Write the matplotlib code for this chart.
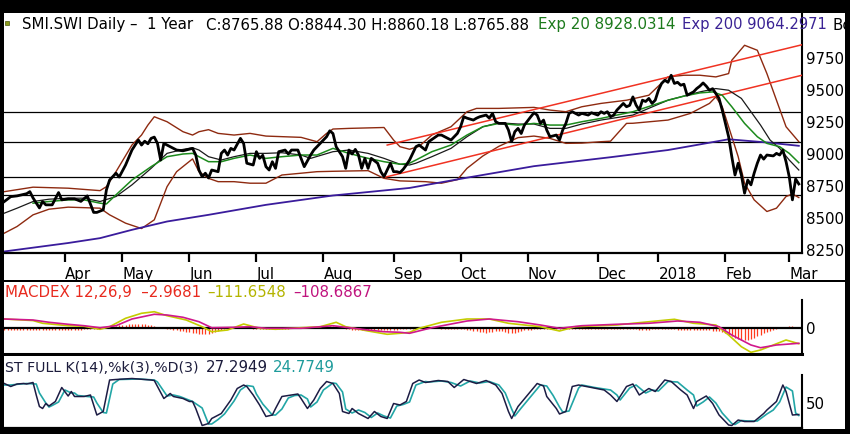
import numpy as np
import matplotlib
matplotlib.use("Agg")
import matplotlib.pyplot as plt
from matplotlib.patches import Rectangle
from matplotlib.transforms import blended_transform_factory

# x axis = trading days counted from 1 Apr 2017
month_labels = ["Apr", "May", "Jun", "Jul", "Aug", "Sep", "Oct", "Nov", "Dec", "2018", "Feb", "Mar"]
month_days = [18, 21, 21, 21, 22, 21, 21, 22, 19, 21, 20]

## Harga penutupan (day, close) ##
close = [(-19, 8629), (-17, 8667), (-15, 8673), (-12, 8690), (-11, 8706), (-10, 8657), (-8, 8579),
         (-7, 8629), (-6, 8603), (-4, 8603), (-2, 8699), (-1, 8642), (1, 8650), (3, 8650), (5, 8630),
         (7, 8673), (9, 8544), (10, 8544), (12, 8564), (13, 8720), (14, 8797), (16, 8850), (17, 8820),
         (19, 8914), (21, 9031), (23, 9109), (24, 9070), (25, 9100), (26, 9080), (27, 9122), (28, 9132),
         (29, 9083), (30, 8953), (31, 9083), (33, 9057), (35, 9031), (37, 9025), (40, 9044), (41, 8992),
         (42, 8875), (43, 8823), (44, 8850), (45, 8813), (46, 8875), (48, 8862), (49, 9005), (50, 9031),
         (51, 8992), (52, 9044), (53, 9031), (55, 9122), (56, 9083), (57, 8928), (59, 8914), (60, 9018),
         (61, 8966), (62, 8990), (63, 8901), (64, 8875), (65, 8940), (66, 8888), (67, 9018), (69, 9031),
         (70, 9000), (71, 9031), (73, 9031), (74, 8966), (75, 8901), (77, 8992), (78, 9031), (80, 9083),
         (82, 9135), (83, 9181), (84, 9160), (85, 9057), (87, 8979), (88, 8888), (89, 9031), (90, 9000),
         (91, 9036), (92, 8992), (93, 8888), (94, 8966), (95, 8888), (96, 8966), (98, 8928), (99, 8862),
         (100, 8823), (102, 8928), (103, 8862), (104, 8862), (105, 8855), (106, 8880), (107, 8914),
         (108, 8953), (110, 9057), (111, 9070), (113, 9031), (114, 9096), (117, 9148), (118, 9148),
         (120, 9122), (121, 9109), (123, 9161), (124, 9213), (125, 9291), (126, 9280), (128, 9265),
         (129, 9280), (130, 9291), (132, 9304), (133, 9280), (134, 9317), (135, 9252), (136, 9239),
         (138, 9239), (139, 9187), (140, 9096), (141, 9174), (142, 9200), (143, 9160), (144, 9226),
         (146, 9291), (147, 9322), (148, 9304), (149, 9239), (150, 9265), (151, 9187), (152, 9135),
         (154, 9148), (155, 9109), (156, 9187), (157, 9239), (158, 9317), (159, 9330), (161, 9304),
         (162, 9317), (164, 9304), (165, 9322), (167, 9304), (168, 9330), (169, 9317), (170, 9330),
         (171, 9291), (172, 9304), (173, 9343), (175, 9395), (176, 9369), (177, 9380), (178, 9446),
         (179, 9382), (180, 9343), (181, 9420), (182, 9410), (183, 9434), (184, 9395), (185, 9420),
         (186, 9498), (187, 9551), (188, 9576), (189, 9560), (190, 9615), (191, 9551), (192, 9560),
         (193, 9537), (194, 9545), (195, 9459), (197, 9485), (198, 9511), (199, 9530), (200, 9555),
         (201, 9530), (202, 9498), (203, 9510), (204, 9472), (205, 9434), (206, 9343), (207, 9239),
         (208, 9135), (209, 8979), (210, 8836), (211, 8928), (212, 8836), (213, 8694), (214, 8797),
         (215, 8759), (216, 8850), (217, 8928), (218, 8992), (219, 8960), (220, 8992), (222, 8985),
         (223, 9005), (224, 8992), (225, 9031), (226, 8940), (227, 8823), (228, 8642), (229, 8805),
         (230, 8766)]

ema20 = [(-10, 8616), (-5, 8629), (1, 8642), (6, 8642), (11, 8616), (13, 8610), (16, 8681), (21, 8797),
         (27, 8901), (32, 8979), (37, 9000), (40, 9005), (42, 8979), (45, 8940), (49, 8940), (53, 8966),
         (58, 8992), (63, 8966), (68, 8979), (74, 8992), (79, 8992), (84, 9044), (89, 9005), (95, 8966),
         (100, 8940), (105, 8920), (108, 8928), (110, 8953), (115, 9018), (121, 9070), (126, 9148),
         (131, 9213), (136, 9239), (142, 9226), (147, 9239), (152, 9226), (157, 9226), (162, 9252),
         (168, 9278), (178, 9330), (189, 9420), (194, 9452), (199, 9477), (203, 9485), (206, 9459),
         (209, 9369), (213, 9239), (217, 9135), (220, 9083), (224, 9057), (227, 9005), (230, 8932)]

ema200 = [(-19, 8239), (1, 8305), (11, 8343), (21, 8408), (32, 8473), (45, 8525), (63, 8603),
          (84, 8676), (108, 8735), (126, 8815), (147, 8905), (171, 8975), (189, 9031), (199, 9075),
          (208, 9115), (220, 9090), (230, 9064)]

bb_mid = [(-19, 8538), (-15, 8577), (-10, 8629), (-5, 8647), (1, 8655), (6, 8655), (11, 8629),
          (16, 8668), (21, 8759), (27, 8888), (32, 9005), (37, 9036), (40, 9049), (42, 9031), (45, 8979),
          (49, 8953), (53, 8979), (58, 9005), (63, 9005), (68, 9010), (74, 8992), (77, 8966), (84, 9018),
          (89, 9031), (95, 9005), (100, 8966), (105, 8920), (108, 8914), (110, 8928), (115, 8979),
          (121, 9044), (126, 9135), (131, 9213), (136, 9244), (142, 9234), (147, 9234), (152, 9200),
          (157, 9200), (162, 9234), (168, 9265), (178, 9304), (189, 9420), (199, 9485), (204, 9511),
          (208, 9498), (212, 9434), (215, 9330), (218, 9226), (221, 9109), (224, 9044), (227, 8953),
          (230, 8875)]

bb_upper = [(-19, 8706), (-10, 8741), (1, 8733), (11, 8714), (13, 8745), (16, 8862), (21, 9070),
            (24, 9148), (26, 9226), (28, 9291), (32, 9252), (37, 9174), (40, 9148), (42, 9174),
            (45, 9190), (48, 9161), (53, 9148), (58, 9161), (63, 9140), (74, 9130), (79, 9096),
            (82, 9161), (84, 9195), (89, 9200), (100, 9207), (103, 9109), (105, 9057), (108, 9037),
            (111, 9060), (115, 9148), (121, 9213), (126, 9330), (129, 9356), (136, 9356), (147, 9364),
            (152, 9343), (157, 9330), (162, 9369), (168, 9395), (176, 9420), (183, 9459), (189, 9602),
            (194, 9615), (199, 9615), (204, 9602), (208, 9628), (209, 9732), (213, 9849), (217, 9810),
            (220, 9628), (223, 9420), (226, 9213), (230, 9096)]

bb_lower = [(-19, 8382), (-15, 8434), (-10, 8525), (-5, 8569), (1, 8585), (11, 8577), (14, 8525),
            (19, 8460), (24, 8418), (28, 8486), (32, 8745), (35, 8862), (40, 8962), (42, 8862),
            (45, 8810), (48, 8784), (53, 8784), (58, 8772), (63, 8772), (68, 8836), (74, 8850),
            (79, 8862), (84, 8865), (95, 8870), (100, 8810), (105, 8790), (113, 8784), (118, 8772),
            (123, 8800), (126, 8888), (131, 8985), (136, 9060), (142, 9128), (147, 9140), (152, 9122),
            (157, 9083), (162, 9085), (168, 9096), (171, 9100), (176, 9239), (178, 9240), (189, 9265),
            (196, 9317), (202, 9395), (204, 9446), (206, 9369), (208, 9213), (211, 8979), (213, 8772),
            (216, 8642), (220, 8551), (223, 8577), (226, 8668), (228, 8688), (230, 8660)]

channel_upper = [(101, 9070), (231, 9853)]
channel_lower = [(100, 8817), (231, 9615)]
hlines = [9325, 9092, 8820, 8680]

## MACD 12,26,9 ##
macd = [(-19, 61), (-10, 50), (-7, 31), (1, 14), (6, 10), (11, -11), (14, 7), (19, 66), (24, 101),
        (28, 112), (32, 84), (38, 54), (43, 7), (46, -28), (51, -16), (56, 26), (61, -4), (66, -11),
        (74, 0), (80, 7), (85, 38), (88, 7), (95, -23), (101, -46), (105, -39), (108, -32), (111, -4),
        (118, 38), (126, 61), (133, 61), (139, 31), (149, 7), (155, -23), (160, 7), (173, 19),
        (178, 31), (191, 59), (197, 31), (204, 19), (208, -51), (212, -133), (215, -172), (218, -156),
        (222, -121), (226, -86), (230, -112)]
signal = [(-19, 61), (-10, 54), (-5, 38), (1, 24), (6, 14), (11, 0), (16, 14), (21, 61), (28, 94),
          (32, 89), (37, 73), (42, 42), (46, 0), (53, 3), (58, 7), (63, -4), (74, -4), (84, 14),
          (89, 0), (95, -16), (100, -28), (105, -32), (108, -39), (115, 0), (126, 47), (133, 61),
          (142, 42), (149, 19), (155, -4), (162, 14), (173, 24), (183, 31), (192, 47), (199, 38),
          (205, 7), (209, -51), (215, -121), (218, -140), (223, -121), (230, -109)]
# histogram, one bar per trading day from day -19 to day 230
hist = [-14, -14, -15, -15, -14, -14, -15, -16, -15, -15,
        -15, -15, -16, -16, -15, -15, -14, -14, -15, -15,
        -14, -13, -13, -14, -13, -12, -11, -10, -9, -8,
        -5, -2, 3, 7, 11, 14, 17, 19, 21, 23,
        24, 26, 27, 26, 24, 21, 17, 12, 7, 2,
        -4, -8, -11, -14, -17, -20, -24, -28, -32, -36,
        -40, -44, -46, -47, -45, -40, -33, -26, -18, -10,
        -4, 2, 6, 8, 7, 4, 0, -4, -7, -9,
        -9, -8, -7, -6, -6, -7, -7, -8, -7, -6,
        -4, -2, 0, 2, 3, 2, 0, 3, 6, 9,
        11, 12, 12, 11, 7, 2, -4, -8, -11, -14,
        -15, -16, -17, -18, -18, -17, -17, -16, -16, -15,
        -15, -14, -13, -13, -12, -11, -10, -9, -8, -6,
        -5, -4, -3, -3, -4, -5, -5, -6, -6, -7,
        -8, -9, -9, -10, -11, -13, -16, -20, -25, -29,
        -32, -34, -32, -28, -24, -20, -24, -30, -34, -36,
        -34, -29, -23, -18, -15, -13, -12, -11, -11, -10,
        -10, -9, -9, -8, -8, -8, -7, -7, -7, -8,
        -8, -8, -9, -9, -9, -8, -8, -9, -9, -10,
        -10, -10, -11, -11, -11, -12, -12, -12, -12, -13,
        -13, -13, -13, -12, -12, -12, -11, -11, -11, -12,
        -12, -13, -13, -14, -14, -15, -15, -15, -16, -16,
        -17, -18, -20, -22, -26, -32, -40, -50, -60, -70,
        -78, -84, -86, -84, -78, -70, -60, -50, -40, -32,
        -24, -16, -9, -2, 4, 8, 10, 9, 7, 4]

## Stochastic full 14,3,3 ##
stoch_k = [(-19, 89), (-17, 83), (-15, 88), (-13, 89), (-12, 88), (-10, 91), (-9, 66), (-8, 43), (-7, 39),
           (-6, 49), (-5, 44), (-3, 53), (-1, 81), (1, 64), (2, 73), (3, 63), (6, 63), (8, 66), (9, 46),
           (10, 26), (12, 33), (14, 96), (16, 97), (21, 99), (27, 96), (28, 95), (31, 59), (33, 69),
           (34, 63), (37, 59), (39, 53), (40, 53), (41, 39), (43, 5), (45, 9), (46, 19), (49, 29),
           (52, 56), (54, 79), (56, 86), (57, 83), (59, 66), (61, 46), (63, 23), (65, 26), (66, 39),
           (68, 63), (71, 66), (73, 68), (74, 59), (76, 39), (78, 56), (80, 79), (82, 93), (84, 89),
           (86, 69), (87, 33), (89, 29), (90, 39), (92, 29), (95, 19), (97, 33), (99, 23), (101, 19),
           (103, 49), (105, 46), (107, 53), (109, 89), (111, 96), (113, 91), (117, 95), (120, 93),
           (122, 81), (125, 97), (129, 89), (132, 95), (135, 86), (137, 69), (139, 33), (140, 19),
           (142, 43), (145, 66), (148, 89), (150, 84), (151, 63), (154, 39), (155, 28), (157, 33),
           (159, 83), (161, 86), (165, 81), (169, 76), (171, 66), (173, 53), (176, 83), (178, 88),
           (180, 66), (183, 79), (185, 73), (188, 96), (190, 93), (193, 76), (195, 66), (197, 39),
           (198, 53), (201, 64), (203, 49), (205, 26), (208, 6), (209, 5), (211, 16), (213, 13),
           (216, 13), (219, 29), (220, 36), (223, 53), (225, 86), (226, 73), (228, 26), (230, 27)]
stoch_d = [(-19, 86), (-17, 86), (-14, 88), (-12, 89), (-9, 88), (-8, 70), (-6, 50), (-5, 42), (-4, 45),
           (-2, 52), (0, 76), (2, 70), (3, 70), (4, 65), (7, 63), (9, 62), (10, 50), (12, 31), (13, 30),
           (15, 88), (17, 97), (23, 98), (28, 96), (29, 92), (32, 64), (34, 66), (36, 63), (38, 58),
           (40, 53), (43, 40), (45, 8), (46, 8), (48, 17), (50, 28), (53, 54), (55, 76), (57, 85),
           (59, 83), (60, 68), (62, 48), (65, 26), (66, 26), (68, 38), (70, 60), (72, 65), (74, 66),
           (76, 58), (77, 42), (79, 52), (81, 76), (84, 90), (85, 89), (87, 72), (88, 38), (90, 30),
           (92, 36), (94, 31), (96, 21), (98, 30), (100, 24), (102, 20), (104, 44), (106, 47), (108, 52),
           (110, 86), (113, 93), (114, 92), (118, 94), (121, 91), (124, 84), (127, 94), (130, 90),
           (133, 93), (136, 86), (138, 70), (140, 38), (141, 24), (143, 40), (146, 63), (149, 86),
           (151, 84), (153, 65), (155, 42), (156, 32), (158, 34), (161, 80), (162, 86), (166, 81),
           (171, 76), (173, 66), (174, 56), (177, 80), (179, 86), (182, 70), (184, 76), (186, 74),
           (189, 93), (192, 92), (195, 76), (197, 66), (198, 44), (200, 52), (202, 62), (204, 50),
           (206, 30), (209, 9), (210, 7), (212, 15), (214, 14), (217, 14), (220, 28), (222, 36),
           (224, 52), (226, 82), (228, 74), (229, 30), (230, 25)]

W, H = 850, 434
FS = 10.8


def fx(px):
    return px / W


def fy(py):
    return 1 - py / H


def xy(pts):
    a = np.array(pts, dtype=float)
    return a[:, 0], a[:, 1]


fig = plt.figure(figsize=(W / 100, H / 100), dpi=100)
fig.patch.set_facecolor("black")
fig.add_artist(Rectangle((fx(4), fy(429)), fx(845) - fx(4), fy(13) - fy(429),
                         transform=fig.transFigure, facecolor="white", edgecolor="none", zorder=-5))
fig.add_artist(Rectangle((fx(4), fy(282)), fx(845) - fx(4), 2 / H,
                         transform=fig.transFigure, facecolor="black", edgecolor="none", zorder=5))

xlim = (-19.1, 231.0)
ax = fig.add_axes([fx(4), fy(253), fx(802) - fx(4), fy(13) - fy(253)])
ax_m = fig.add_axes([fx(4), fy(354), fx(802) - fx(4), fy(282) - fy(354)])
ax_s = fig.add_axes([fx(4), fy(428), fx(802) - fx(4), fy(356) - fy(428)])

### PANEL HARGA ###
for v in hlines:
    ax.axhline(v, color="black", lw=0.9, zorder=1)
ax.plot(*xy(bb_upper), color="#8e2a10", lw=1.0, zorder=2)
ax.plot(*xy(bb_lower), color="#8e2a10", lw=1.0, zorder=2)
ax.plot(*xy(ema200), color="#3a1c9c", lw=1.3, zorder=2)
ax.plot(*xy(channel_upper), color="#f03222", lw=1.1, zorder=3)
ax.plot(*xy(channel_lower), color="#f03222", lw=1.1, zorder=3)
ax.plot(*xy(bb_mid), color="#1a1a1a", lw=0.9, zorder=3)
ax.plot(*xy(ema20), color="#1c8a1c", lw=1.1, zorder=4)
ax.plot(*xy(close), color="black", lw=2.0, zorder=5)

ax.set_xlim(*xlim)
ax.set_ylim(8227, 10101)
ax.yaxis.tick_right()
ax.set_yticks(range(8250, 9751, 250))
ax.tick_params(axis="y", length=0, pad=3, labelsize=FS)
ticks = np.concatenate([[0], np.cumsum(month_days)])
ax.set_xticks(ticks)
ax.tick_params(axis="x", direction="out", length=6.5, width=1.6, labelbottom=False)
tr = blended_transform_factory(ax.transData, fig.transFigure)
for t, lab in zip(ticks, month_labels):
    ax.text(t, fy(279), lab, transform=tr, ha="left", va="baseline", fontsize=FS, clip_on=False)
for s in ("top", "left"):
    ax.spines[s].set_visible(False)
ax.spines["bottom"].set_linewidth(1.6)
ax.spines["right"].set_linewidth(1.5)

### PANEL MACD ###
ax_m.vlines(np.arange(-19, 231), 0, hist, colors="#ff3c1e", lw=0.9, zorder=1)
ax_m.axhline(0, color="black", lw=1.6, zorder=2)
ax_m.plot(*xy(macd), color="#c4cc00", lw=1.2, zorder=3)
ax_m.plot(*xy(signal), color="#d0188c", lw=1.2, zorder=4)
ax_m.set_xlim(*xlim)
ax_m.set_ylim(-184, 320)
ax_m.set_xticks([])
ax_m.yaxis.tick_right()
ax_m.set_yticks([0])
ax_m.tick_params(axis="y", length=0, pad=3, labelsize=FS)
for s in ("top", "left", "right"):
    ax_m.spines[s].set_visible(False)
ax_m.spines["bottom"].set_linewidth(2.2)
ax_m.plot([1, 1], [0, 54 / 72], transform=ax_m.transAxes, color="black", lw=1.5, clip_on=False)

### PANEL STOCHASTIC ###
ax_s.plot(*xy(stoch_d), color="#22a6a6", lw=1.2, zorder=2)
ax_s.plot(*xy(stoch_k), color="#1c1c44", lw=1.1, zorder=3)
ax_s.set_xlim(*xlim)
ax_s.set_ylim(0, 144)
ax_s.set_xticks([])
ax_s.yaxis.tick_right()
ax_s.set_yticks([50])
ax_s.tick_params(axis="y", length=0, pad=3, labelsize=FS)
for s in ("top", "left", "right"):
    ax_s.spines[s].set_visible(False)
ax_s.spines["bottom"].set_linewidth(1.6)
ax_s.plot([1, 1], [0, 53 / 72], transform=ax_s.transAxes, color="black", lw=1.5, clip_on=False)

### JUDUL ###
fig.add_artist(Rectangle((fx(5), fy(25)), 3.5 / W, 4 / H, transform=fig.transFigure,
                         facecolor="#8c9c1c", edgecolor="#4a5a10", lw=0.5, zorder=6))
title_parts = [(22, "SMI.SWI Daily \u2013  1 Year", "black", FS),
               (206, "C:8765.88 O:8844.30 H:8860.18 L:8765.88", "black", FS),
               (538, "Exp 20 8928.0314", "#1c7a1c", FS),
               (682, "Exp 200 9064.2971", "#3a2294", 10.6),
               (833, "Bo", "black", FS)]
for px, s, c, size in title_parts:
    fig.text(fx(px), fy(29.5), s, color=c, fontsize=size, va="baseline", zorder=6)

macd_parts = [(5, "MACDEX 12,26,9  \u20132.9681", "#e82a1e", FS),
              (207, "\u2013111.6548", "#b4b400", FS),
              (293, "\u2013108.6867", "#c0147e", FS)]
for px, s, c, size in macd_parts:
    fig.text(fx(px), fy(297), s, color=c, fontsize=size, va="baseline", zorder=6)

stoch_parts = [(5, "ST FULL K(14),%k(3),%D(3)", "#1c1c3c", 10.2),
               (206, "27.2949", "#1c1c3c", FS),
               (273, "24.7749", "#1f9c9c", FS)]
for px, s, c, size in stoch_parts:
    fig.text(fx(px), fy(371.5), s, color=c, fontsize=size, va="baseline", zorder=6)

# black frame on top of everything (cuts the title at the right edge)
fig.add_artist(Rectangle((fx(845), 0), 5 / W, 1, transform=fig.transFigure,
                         facecolor="black", edgecolor="none", zorder=20))

fig.savefig("out.png", dpi=100, facecolor=fig.get_facecolor())
